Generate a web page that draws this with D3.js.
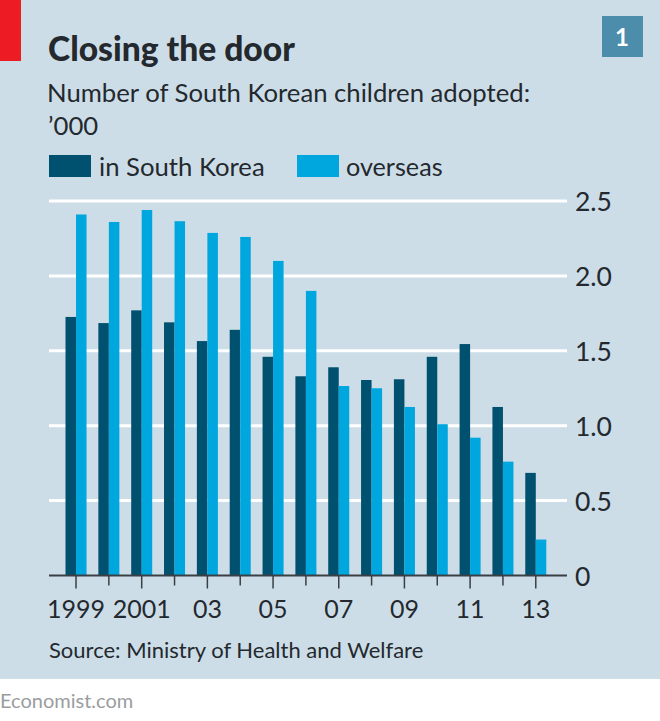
<!DOCTYPE html>
<html>
<head>
<meta charset="utf-8">
<script src="https://cdn.jsdelivr.net/npm/d3@7"></script>
<style>
html, body { margin: 0; padding: 0; background: #fff; }
text { font-family: "Lato", sans-serif; fill: #23292e; }
</style>
</head>
<body>
<script>
var w = 660,
    h = 721;

var years = [1999, 2000, 2001, 2002, 2003, 2004, 2005, 2006, 2007, 2008, 2009, 2010, 2011, 2012, 2013];
var inSouthKorea = [1.726, 1.685, 1.77, 1.69, 1.565, 1.64, 1.46, 1.33, 1.39, 1.305, 1.31, 1.46, 1.545, 1.125, 0.685];
var overseas = [2.41, 2.36, 2.44, 2.365, 2.287, 2.26, 2.10, 1.90, 1.265, 1.25, 1.125, 1.01, 0.92, 0.76, 0.24];
var yTicks = [0, 0.5, 1.0, 1.5, 2.0, 2.5];
var yearLabels = {1999: "1999", 2001: "2001", 2003: "03", 2005: "05", 2007: "07", 2009: "09", 2011: "11", 2013: "13"};

var svg = d3.select("body").append("svg")
    .attr("width", w)
    .attr("height", h)
    .style("display", "block");

// panel + red tab
svg.append("rect").attr("width", w).attr("height", 679).attr("fill", "#cddde7");
svg.append("rect").attr("width", 21).attr("height", 61).attr("fill", "#ed1c24");

// number box
svg.append("rect").attr("x", 602).attr("y", 16).attr("width", 41).attr("height", 41).attr("fill", "#4b8dab");
svg.append("text").attr("x", 622).attr("y", 46).attr("text-anchor", "middle")
    .style("font-size", "24px").style("font-weight", 700).style("fill", "#fff").text("1");

// headings
svg.append("text").attr("x", 48).attr("y", 61)
    .style("font-size", "33.6px").style("font-weight", 900).text("Closing the door");
svg.append("text").attr("x", 47).attr("y", 102)
    .style("font-size", "25.7px").text("Number of South Korean children adopted:");
svg.append("text").attr("x", 48).attr("y", 135)
    .style("font-size", "25.7px").text("’000");

// legend
svg.append("rect").attr("x", 49).attr("y", 155).attr("width", 42).attr("height", 22).attr("fill", "#00506f");
svg.append("text").attr("x", 99).attr("y", 176).style("font-size", "25.7px").text("in South Korea");
svg.append("rect").attr("x", 297).attr("y", 155).attr("width", 42).attr("height", 22).attr("fill", "#00a6de");
svg.append("text").attr("x", 346).attr("y", 176).style("font-size", "25.2px").text("overseas");

var y = d3.scaleLinear().domain([0, 2.5]).range([575.5, 201]);

var x = d3.scaleBand().domain(years).range([59.6, 552.2]).paddingInner(0.36).paddingOuter(0.18);

// gridlines
svg.append("g").selectAll("line")
    .data(yTicks.filter(function(d) { return d > 0; }))
    .enter().append("line")
    .attr("x1", 49).attr("x2", 567)
    .attr("y1", function(d) { return y(d); })
    .attr("y2", function(d) { return y(d); })
    .attr("stroke", "#fff").attr("stroke-width", 3);

// bars, each series takes half of the band
var barW = x.bandwidth() / 2;
svg.append("g").selectAll("rect")
    .data(inSouthKorea)
    .enter().append("rect")
    .attr("x", function(d, i) { return x(years[i]); })
    .attr("width", barW)
    .attr("y", function(d) { return y(d); })
    .attr("height", function(d) { return y(0) - y(d); })
    .attr("fill", "#00506f");
svg.append("g").selectAll("rect")
    .data(overseas)
    .enter().append("rect")
    .attr("x", function(d, i) { return x(years[i]) + barW; })
    .attr("width", barW)
    .attr("y", function(d) { return y(d); })
    .attr("height", function(d) { return y(0) - y(d); })
    .attr("fill", "#00a6de");

// right hand labels
svg.append("g").selectAll("text")
    .data(yTicks)
    .enter().append("text")
    .attr("x", 575)
    .attr("y", function(d) { return y(d) + 10; })
    .style("font-size", "26.5px")
    .text(function(d) { return d === 0 ? "0" : d.toFixed(1); });

// baseline and year ticks
svg.append("line").attr("x1", 49).attr("x2", 567).attr("y1", 575.5).attr("y2", 575.5)
    .attr("stroke", "#3a3f44").attr("stroke-width", 2);

var xAxis = d3.axisBottom(x)
    .tickSize(0)
    .tickFormat(function(d) { return yearLabels[d] || ""; });
var axisG = svg.append("g").attr("transform", "translate(0,575.5)").call(xAxis);
axisG.select(".domain").remove();
axisG.selectAll(".tick text")
    .attr("y", 42).attr("dy", 0)
    .style("font-size", "25px")
    .style("font-family", '"Lato", sans-serif');
axisG.selectAll(".tick line")
    .attr("y2", function(d) { return yearLabels[d] ? 13 : 10; })
    .attr("stroke", "#3a3f44").attr("stroke-width", 1.5);

// source + footer
svg.append("text").attr("x", 49).attr("y", 658)
    .style("font-size", "22px").text("Source: Ministry of Health and Welfare");
svg.append("text").attr("x", 0).attr("y", 708)
    .style("font-size", "20px").style("fill", "#9a9d9f").text("Economist.com");
</script>
</body>
</html>
